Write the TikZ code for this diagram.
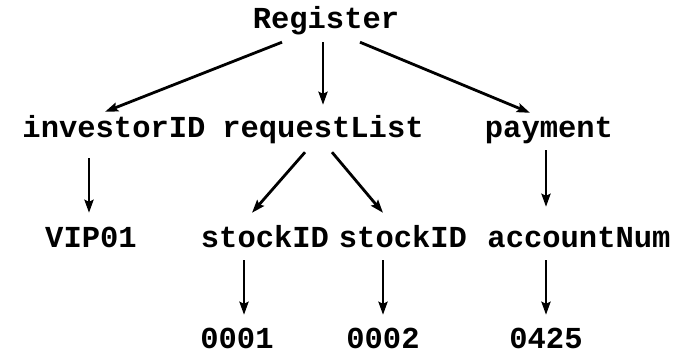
\documentclass[tikz,border=0pt]{standalone}
\usepackage{fontspec}
\newfontfamily\codefont{Liberation Mono}
\usetikzlibrary{arrows.meta}

\begin{document}
\begin{tikzpicture}[x=1pt,y=-1pt,
    lbl/.style={font=\codefont\bfseries\fontsize{30.5}{31}\selectfont, inner sep=0pt,
      text height=17pt, text depth=5pt, anchor=base},
    arr/.style={-{Stealth[length=13pt,width=9pt,inset=2pt]}, line width=2.8pt}]
    \useasboundingbox (0,0) rectangle (675,354);
    \node [lbl] (reg) at (326,28) {Register};
    \node [lbl] (inv) at (114,137) {investorID};
    \node [lbl] (req) at (323,137) {requestList};
    \node [lbl] (pay) at (549,137) {payment};
    \node [lbl] (vip) at (91,247) {VIP01};
    \node [lbl] (sa) at (265,247) {stockID};
    \node [lbl] (sb) at (403,247) {stockID};
    \node [lbl] (acc) at (579,247) {accountNum};
    \node [lbl] (na) at (237,348) {0001};
    \node [lbl] (nb) at (383,348) {0002};
    \node [lbl] (nc) at (546,348) {0425};
    \draw [arr] ([xshift=-44pt,yshift=-9pt]reg.south) -- ([xshift=-9pt,yshift=8pt]inv.north);
    \draw [arr] ([yshift=-9pt]reg.south -| req.north) -- ([yshift=15pt]req.north);
    \draw [arr] ([xshift=34pt,yshift=-9pt]reg.south) -- ([xshift=-19pt,yshift=7pt]pay.north);
    \draw [arr] ([xshift=-2pt,yshift=-16pt]inv.south -| vip.north) -- ([xshift=-2pt,yshift=17pt]vip.north);
    \draw [arr] ([xshift=-18pt,yshift=-10pt]req.south) -- ([xshift=-13pt,yshift=17pt]sa.north);
    \draw [arr] ([xshift=9pt,yshift=-10pt]req.south) -- ([xshift=-20pt,yshift=17pt]sb.north);
    \draw [arr] ([xshift=-3pt,yshift=-8pt]pay.south) -- ([xshift=-3pt,yshift=23pt]pay.south |- acc.north);
    \draw [arr] ([xshift=7pt,yshift=-8pt]sa.south -| na.north) -- ([xshift=7pt,yshift=16pt]na.north);
    \draw [arr] ([yshift=-8pt]sb.south -| nb.north) -- ([yshift=16pt]nb.north);
    \draw [arr] ([yshift=-8pt]acc.south -| nc.north) -- ([yshift=16pt]nc.north);
\end{tikzpicture}
\end{document}
